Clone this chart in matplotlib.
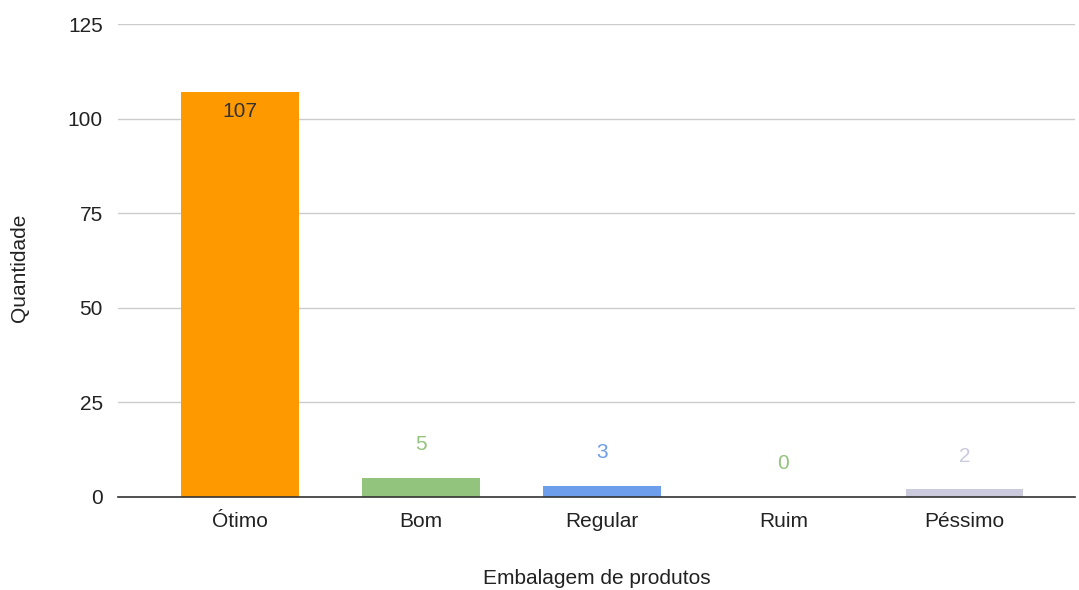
import matplotlib.pyplot as plt

plt.rcParams['font.family'] = ['Liberation Sans', 'DejaVu Sans']

categorias = ["Ótimo", "Bom", "Regular", "Ruim", "Péssimo"]
quantidades = [107, 5, 3, 0, 2]
cores = ["#FF9900", "#93C47D", "#6D9EEB", "#93C47D", "#CBCBDD"]
cores_rotulo = ["#333333", "#93C47D", "#6D9EEB", "#93C47D", "#CBCBDD"]
ticks_y = [0, 25, 50, 75, 100, 125]

fs = 15

fig = plt.figure(figsize=(10.79, 5.9), dpi=100)
ax = fig.add_axes([118 / 1079, 1 - 497 / 590, (1075 - 118) / 1079, (497 - 24) / 590])

x = range(len(categorias))
bars = ax.bar(x, quantidades, width=0.65, color=cores, zorder=2)

for i, v in enumerate(quantidades):
    if i == 0:
        ax.annotate(str(v), (i, v), xytext=(0, -14), textcoords="offset points",
                    ha="center", va="center", fontsize=fs, color=cores_rotulo[i])
    else:
        ax.annotate(str(v), (i, v), xytext=(0, 24), textcoords="offset points",
                    ha="center", va="center", fontsize=fs, color=cores_rotulo[i])

ax.set_xlim(-0.674, 4.61)
ax.set_ylim(0, 125)
ax.set_yticks(ticks_y)
ax.set_xticks(list(x))
ax.set_xticklabels(categorias)
ax.tick_params(axis="both", length=0, labelsize=fs, labelcolor="#222222")
ax.tick_params(axis="y", pad=11)
ax.tick_params(axis="x", pad=11)
ax.grid(axis="y", color="#CCCCCC", linewidth=1, zorder=0)
for s in ["top", "right", "left"]:
    ax.spines[s].set_visible(False)
ax.spines["bottom"].set_color("#333333")
ax.spines["bottom"].set_linewidth(1.2)
ax.spines["bottom"].set_zorder(3)

ax.set_xlabel("Embalagem de produtos", fontsize=fs, color="#222222", labelpad=27)
fig.text(20 / 1079, 1 - 268 / 590, "Quantidade", rotation=90, fontsize=fs,
         color="#222222", ha="center", va="center")

fig.savefig("out.png", dpi=100)
